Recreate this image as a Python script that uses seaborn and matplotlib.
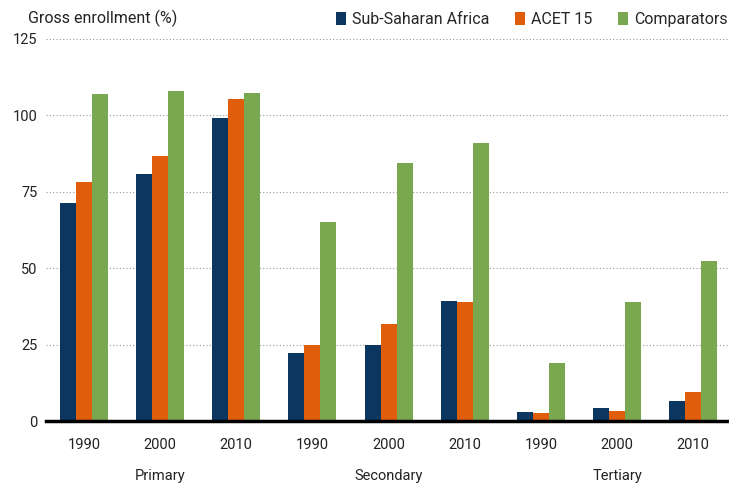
import matplotlib
matplotlib.use('Agg')
import matplotlib.pyplot as plt
import seaborn as sns
import pandas as pd

# Chart data
levels = ['Primary', 'Secondary', 'Tertiary']
years = ['1990', '2000', '2010']
series = ['Sub-Saharan Africa', 'ACET 15', 'Comparators']
ssa = [71.2, 80.9, 99.0, 22.3, 24.8, 39.2, 2.9, 4.3, 6.5]
acet = [78.3, 86.8, 105.4, 24.8, 31.8, 39.0, 2.5, 3.3, 9.5]
comparators = [107.0, 108.0, 107.4, 65.0, 84.4, 91.0, 19.0, 38.9, 52.4]
colors = ['#0b3660', '#e05e0b', '#7aa851']

cats = [f'{lv} {yr}' for lv in levels for yr in years]
rows = []
for name, vals in zip(series, [ssa, acet, comparators]):
    for c, v in zip(cats, vals):
        rows.append({'cat': c, 'series': name, 'value': v})
df = pd.DataFrame(rows)

sns.set_style('white')
plt.rcParams['font.family'] = ['Roboto', 'DejaVu Sans']

fig = plt.figure(figsize=(7.29, 4.87), dpi=100)
ax = fig.add_axes([0.063, 0.1355, 0.94, 0.785])

sns.barplot(data=df, x='cat', y='value', hue='series', order=cats,
            hue_order=series, palette=colors, width=0.63, saturation=1,
            linewidth=0, ax=ax)

ax.set_ylim(0, 125)
ax.set_xlim(-0.5, 8.5)
ax.set_yticks([0, 25, 50, 75, 100, 125])
ax.yaxis.grid(True, linestyle=(0, (1, 2)), color='#999999', linewidth=0.8)
ax.set_axisbelow(True)
for s in ['top', 'right', 'left']:
    ax.spines[s].set_visible(False)
ax.spines['bottom'].set_linewidth(2.5)
ax.spines['bottom'].set_color('black')
ax.tick_params(axis='both', length=0, labelsize=10.5, colors='#222222')
ax.tick_params(axis='x', pad=12)
ax.tick_params(axis='y', pad=6)
ax.set_xticks(range(len(cats)))
ax.set_xticklabels(years * 3)
ax.set_xlabel('')
ax.set_ylabel('')

for i, lv in enumerate(levels):
    ax.text(3 * i + 1, -18, lv, ha='center', va='center', fontsize=10.5,
            color='#222222', transform=ax.transData, clip_on=False)

fig.text(0.038, 0.962, 'Gross enrollment (%)', fontsize=11.5, va='center',
         color='#222222')
ax.legend(loc='lower right', bbox_to_anchor=(0.995, 1.03), ncol=3, frameon=False,
          fontsize=11.5, handlelength=0.6, handleheight=0.9, handletextpad=0.4,
          columnspacing=1.6, borderaxespad=0, borderpad=0)

fig.savefig('out.png', dpi=100)
